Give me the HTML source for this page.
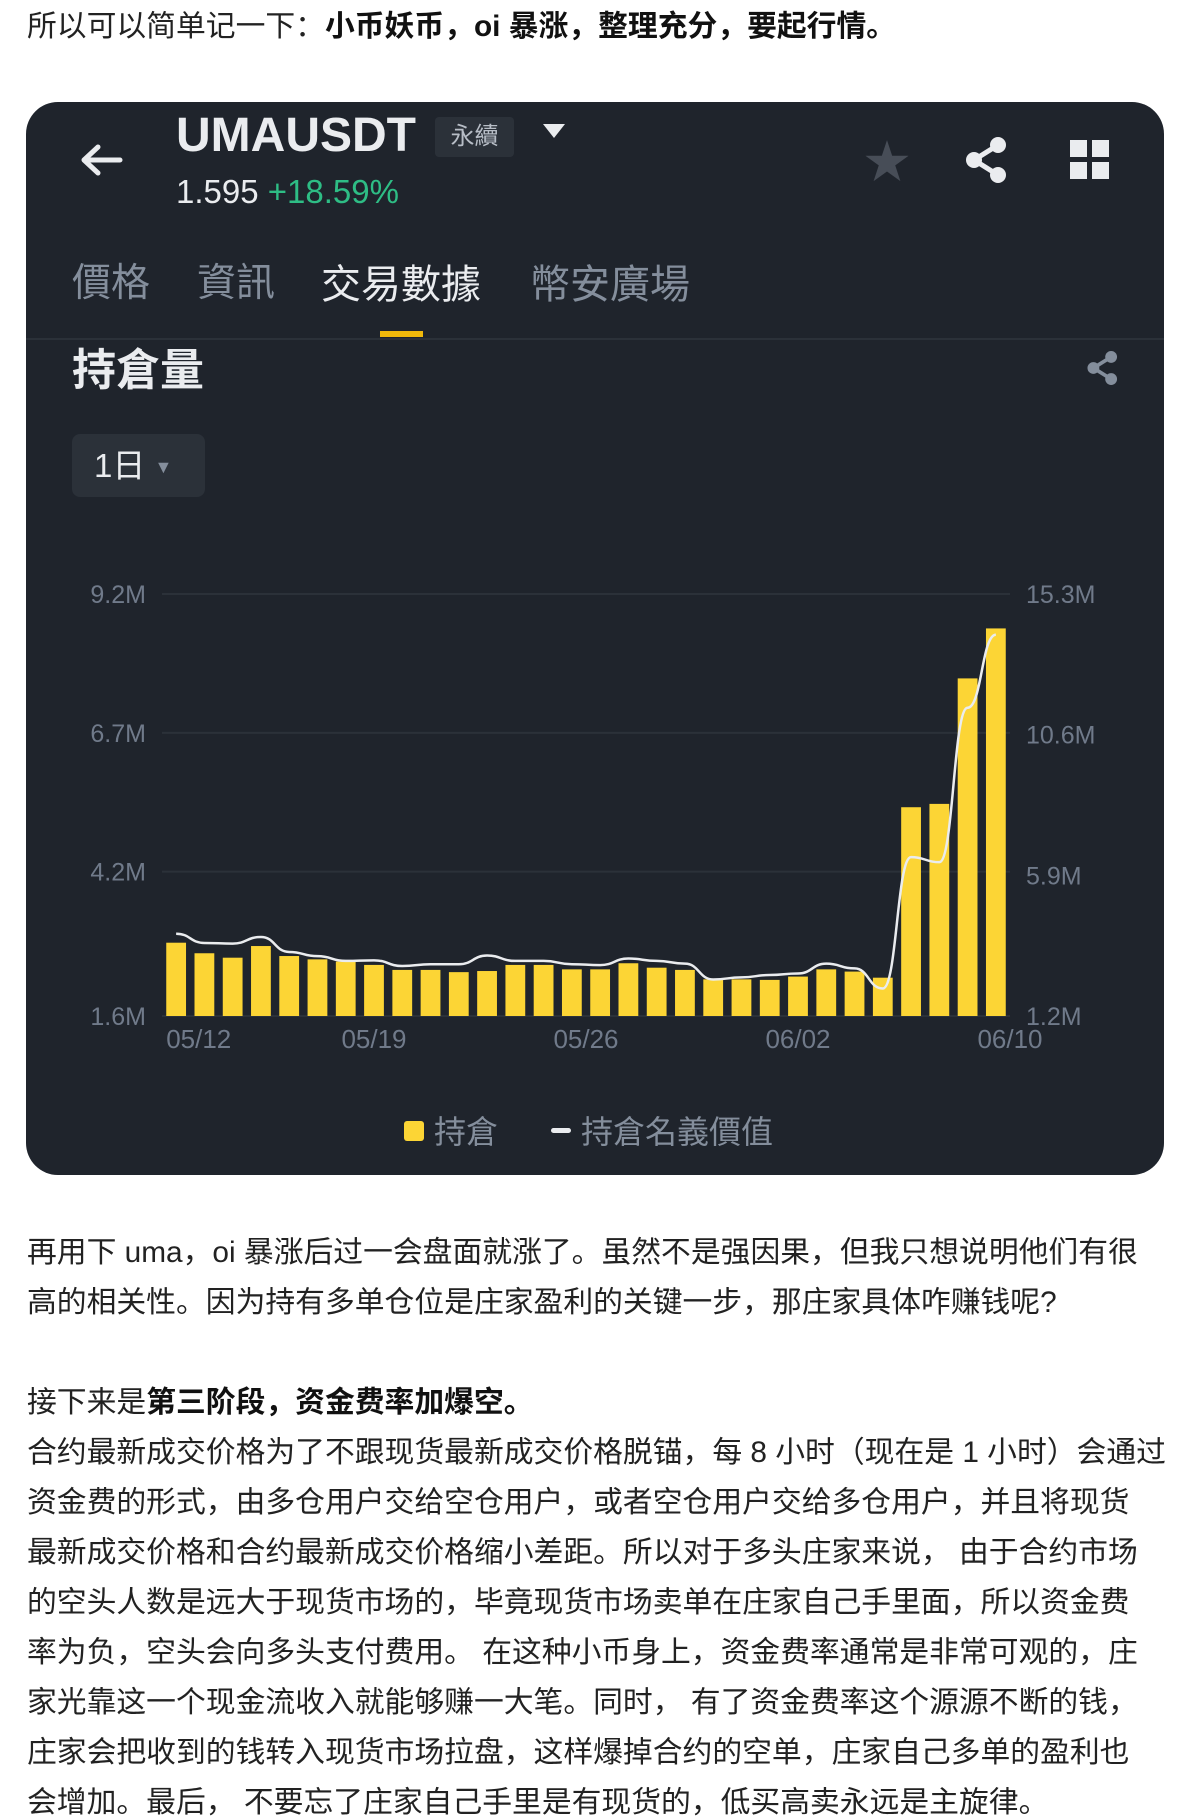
<!DOCTYPE html>
<html><head><meta charset="utf-8">
<style>
body{margin:0;width:1194px;height:1820px;background:#fff;overflow:hidden;font-family:"Liberation Sans","Noto Sans CJK SC",sans-serif;position:relative}
.t{position:absolute;left:27px;font-size:29.8px;color:#222;white-space:nowrap;line-height:34px}
b{font-weight:bold;color:#111}
#card{position:absolute;left:26px;top:102px;width:1138px;height:1073px;background:#1f242c;border-radius:32px;overflow:hidden}
.a{position:absolute;white-space:nowrap;font-family:"Liberation Sans","Noto Sans CJK TC",sans-serif}
</style></head><body>
<div class="t" style="top:10px">所以可以简单记一下：<b>小币妖币，oi 暴涨，整理充分，要起行情。</b></div>

<div id="card">
  <svg class="a" style="left:50px;top:40px" width="50" height="40" viewBox="0 0 50 40"><path d="M44 18H10M22 5L8 18L22 31" stroke="#eaecef" stroke-width="5" fill="none" stroke-linecap="round" stroke-linejoin="round"/></svg>
  <div class="a" style="left:150px;top:6px;font-size:48px;font-weight:bold;color:#eaecef">UMAUSDT</div>
  <div class="a" style="left:409px;top:15px;width:79px;height:40px;background:#2b3139;border-radius:4px;color:#b7bdc6;font-size:24px;text-align:center;line-height:40px">永續</div>
  <div class="a" style="left:517px;top:22px;width:0;height:0;border-left:11px solid transparent;border-right:11px solid transparent;border-top:14px solid #eaecef"></div>
  <div class="a" style="left:150px;top:71px;font-size:33px;color:#eaecef">1.595 <span style="color:#2ebd85">+18.59%</span></div>
  <div class="a" style="left:838px;top:24px;font-size:46px;color:#474d57">★</div>
  <svg class="a" style="left:938px;top:34px" width="46" height="48" viewBox="0 0 46 48"><circle cx="34" cy="9" r="8" fill="#eaecef"/><circle cx="10" cy="24" r="8" fill="#eaecef"/><circle cx="34" cy="39" r="8" fill="#eaecef"/><path d="M34 9L10 24L34 39" stroke="#eaecef" stroke-width="5" fill="none"/></svg>
  <svg class="a" style="left:1044px;top:38px" width="40" height="40"><rect x="0" y="0" width="17" height="17" fill="#eaecef"/><rect x="22" y="0" width="17" height="17" fill="#eaecef"/><rect x="0" y="22" width="17" height="17" fill="#eaecef"/><rect x="22" y="22" width="17" height="17" fill="#eaecef"/></svg>
  <div class="a" style="left:46px;top:150px;font-size:39px;color:#848e9c">價格</div>
  <div class="a" style="left:171px;top:150px;font-size:39px;color:#848e9c">資訊</div>
  <div class="a" style="left:295px;top:150px;font-size:40px;color:#eaecef">交易數據</div>
  <div class="a" style="left:504px;top:150px;font-size:40px;color:#848e9c">幣安廣場</div>
  <div class="a" style="left:354px;top:229px;width:43px;height:6px;background:#f0b90b"></div>
  <div class="a" style="left:0;top:236px;width:1138px;height:2px;background:#2b3139"></div>
  <div class="a" style="left:46px;top:232px;font-size:44px;font-weight:bold;color:#eaecef">持倉量</div>
  <svg class="a" style="left:1060px;top:248px" width="34" height="36" viewBox="0 0 46 48"><circle cx="34" cy="9" r="8" fill="#848e9c"/><circle cx="10" cy="24" r="8" fill="#848e9c"/><circle cx="34" cy="39" r="8" fill="#848e9c"/><path d="M34 9L10 24L34 39" stroke="#848e9c" stroke-width="5" fill="none"/></svg>
  <div class="a" style="left:46px;top:332px;width:133px;height:63px;background:#2b3139;border-radius:8px;color:#eaecef;font-size:33px;line-height:63px;padding-left:22px;box-sizing:border-box">1日 <span style="font-size:18px;color:#848e9c;vertical-align:4px">▼</span></div>
  <svg id="chart" class="a" style="left:0;top:0" width="1138" height="1073"></svg>
  <div class="a" style="left:378px;top:1005px;font-size:32px;color:#848e9c"><span style="display:inline-block;width:20px;height:20px;background:#fcd535;border-radius:3px;margin-right:10px;vertical-align:2px"></span>持倉</div>
  <div class="a" style="left:525px;top:1005px;font-size:32px;color:#848e9c"><span style="display:inline-block;width:20px;height:5px;background:#eaecef;border-radius:3px;margin-right:10px;vertical-align:10px"></span>持倉名義價值</div>
</div>

<div class="t" style="top:1236px">再用下 uma，oi 暴涨后过一会盘面就涨了。虽然不是强因果，但我只想说明他们有很</div>
<div class="t" style="top:1286px">高的相关性。因为持有多单仓位是庄家盈利的关键一步，那庄家具体咋赚钱呢?</div>
<div class="t" style="top:1386px">接下来是<b>第三阶段，资金费率加爆空。</b></div>
<div class="t" style="top:1436px">合约最新成交价格为了不跟现货最新成交价格脱锚，每 8 小时（现在是 1 小时）会通过</div>
<div class="t" style="top:1486px">资金费的形式，由多仓用户交给空仓用户，或者空仓用户交给多仓用户，并且将现货</div>
<div class="t" style="top:1536px">最新成交价格和合约最新成交价格缩小差距。所以对于多头庄家来说， 由于合约市场</div>
<div class="t" style="top:1586px">的空头人数是远大于现货市场的，毕竟现货市场卖单在庄家自己手里面，所以资金费</div>
<div class="t" style="top:1636px">率为负，空头会向多头支付费用。 在这种小币身上，资金费率通常是非常可观的，庄</div>
<div class="t" style="top:1686px">家光靠这一个现金流收入就能够赚一大笔。同时， 有了资金费率这个源源不断的钱，</div>
<div class="t" style="top:1736px">庄家会把收到的钱转入现货市场拉盘，这样爆掉合约的空单，庄家自己多单的盈利也</div>
<div class="t" style="top:1786px">会增加。最后， 不要忘了庄家自己手里是有现货的，低买高卖永远是主旋律。</div>

<script>
const oiValues=[2.92,2.73,2.65,2.86,2.68,2.62,2.58,2.52,2.43,2.43,2.39,2.41,2.52,2.52,2.44,2.44,2.55,2.47,2.43,2.26,2.26,2.25,2.31,2.44,2.40,2.29,5.36,5.42,7.68,8.58];
const notionalValues=[3.95,3.64,3.62,3.84,3.34,3.20,3.04,3.06,2.87,2.93,2.93,3.22,3.04,3.04,2.93,2.90,3.12,3.04,2.95,2.42,2.49,2.57,2.62,2.95,2.79,2.12,6.51,6.34,11.5,13.94];
const leftTicks=[1.6,4.2,6.7,9.2];
const leftTickLabels=["1.6M","4.2M","6.7M","9.2M"];
const rightTicks=[1.2,5.9,10.6,15.3];
const rightTickLabels=["1.2M","5.9M","10.6M","15.3M"];
const xTickIndex=[0.8,7,14.5,22,29.5];
const xTickLabels=["05/12","05/19","05/26","06/02","06/10"];

const NS="http://www.w3.org/2000/svg";
const svg=document.getElementById('chart');
const top0=492,bot0=914,x0=136,x1=984;
const yL=v=>bot0-(v-1.6)/(9.2-1.6)*(bot0-top0);
const yR=v=>bot0-(v-1.2)/(15.3-1.2)*(bot0-top0);
const n=oiValues.length;const step=(x1-x0)/n;
const xC=i=>x0+step*(i+0.5);
function mk(tag,attrs){const e=document.createElementNS(NS,tag);for(const k in attrs)e.setAttribute(k,attrs[k]);svg.appendChild(e);return e;}
leftTicks.forEach((v,i)=>{
  const g=mk('line',{x1:x0,x2:x1,y1:yL(v),y2:yL(v),stroke:'#2b3139','stroke-width':2});
  
  
  const t=mk('text',{x:120,y:yL(v)+9,'text-anchor':'end','font-size':25,fill:'#707a8a','font-family':'Liberation Sans, sans-serif'});
  t.textContent=leftTickLabels[i];
  
  
});
rightTicks.forEach((v,i)=>{
  const t=mk('text',{x:1000,y:yR(v)+9,'font-size':25,fill:'#707a8a','font-family':'Liberation Sans, sans-serif'});
  t.textContent=rightTickLabels[i];
  
  
});
oiValues.forEach((v,i)=>{
  const w=step*0.7;
  const r=mk('rect',{x:xC(i)-w/2,y:yL(v),width:w,height:bot0-yL(v),fill:'#fcd535'});
  
  
});
let d='';
notionalValues.forEach((v,i)=>{
  const x=xC(i),y=yR(v);
  if(i===0){d+='M'+x+' '+y;}else{const px=xC(i-1),py=yR(notionalValues[i-1]);const cx=(px+x)/2;d+=' C'+cx+' '+py+' '+cx+' '+y+' '+x+' '+y;}
});
const ln=mk('path',{d:d,fill:'none',stroke:'#eaecef','stroke-width':2.5});


xTickIndex.forEach((idx,i)=>{
  const t=mk('text',{x:xC(idx),y:946,'text-anchor':'middle','font-size':26,fill:'#707a8a','font-family':'Liberation Sans, sans-serif'});
  t.textContent=xTickLabels[i];
  
  
});
</script>
</body></html>
